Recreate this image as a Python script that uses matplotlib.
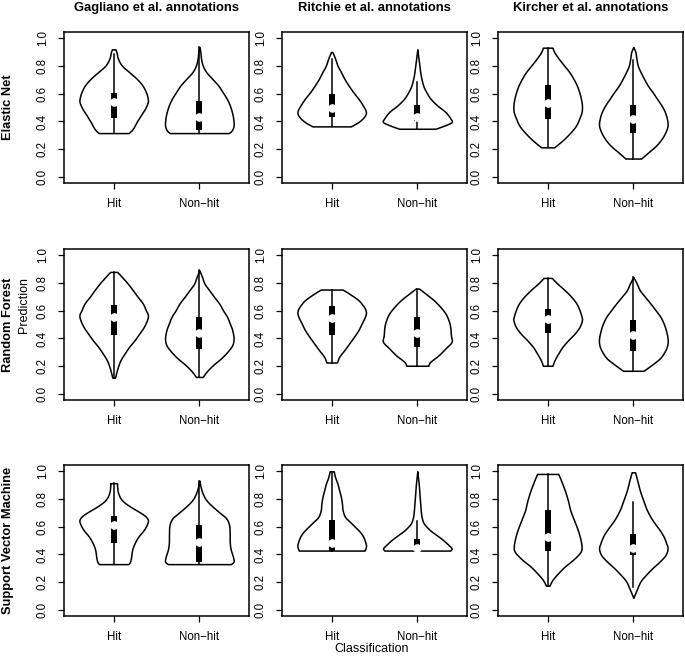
import numpy as np
import matplotlib
matplotlib.use("Agg")
import matplotlib.pyplot as plt
from matplotlib.patches import Rectangle

plt.rcParams['font.family'] = ['Liberation Sans', 'DejaVu Sans']

ANNOTATIONS = ["Gagliano et al. annotations", "Ritchie et al. annotations", "Kircher et al. annotations"]
MODELS = ["Elastic Net", "Random Forest", "Support Vector Machine"]
CLASSES = ["Hit", "Non\u2212hit"]
Y_TICKS = [0.0, 0.2, 0.4, 0.6, 0.8, 1.0]
Y_TICK_LABELS = ["0.0", "0.2", "0.4", "0.6", "0.8", "1.0"]

# Violin outlines: prediction level (y) and relative half-width (w)
# Box statistics: [lower whisker, q1, median, q3, upper whisker]

# Elastic Net - Gagliano
EN_GAG_HIT_Y = [0.317, 0.348, 0.396, 0.444, 0.49, 0.527, 0.55, 0.58, 0.61, 0.658, 0.706, 0.754, 0.80, 0.85, 0.897, 0.916]
EN_GAG_HIT_W = [0.44, 0.56, 0.67, 0.79, 0.91, 0.98, 1.0, 0.98, 0.94, 0.84, 0.67, 0.45, 0.24, 0.125, 0.08, 0.05]
EN_GAG_HIT_S = [0.317, 0.427, 0.539, 0.606, 0.88]
EN_GAG_NON_Y = [0.317, 0.337, 0.372, 0.42, 0.468, 0.515, 0.563, 0.61, 0.658, 0.706, 0.754, 0.80, 0.85, 0.897, 0.933]
EN_GAG_NON_W = [0.86, 0.95, 1.0, 0.99, 0.95, 0.89, 0.8, 0.68, 0.55, 0.375, 0.2, 0.1, 0.05, 0.03, 0.0]
EN_GAG_NON_S = [0.317, 0.337, 0.432, 0.544, 0.933]

# Elastic Net - Ritchie
EN_RIT_HIT_Y = [0.365, 0.396, 0.432, 0.468, 0.515, 0.563, 0.611, 0.659, 0.706, 0.754, 0.80, 0.85, 0.897]
EN_RIT_HIT_W = [0.56, 0.78, 0.94, 1.0, 0.91, 0.78, 0.625, 0.49, 0.37, 0.27, 0.17, 0.1, 0.02]
EN_RIT_HIT_S = [0.365, 0.432, 0.50, 0.60, 0.85]
EN_RIT_NON_Y = [0.348, 0.372, 0.396, 0.42, 0.468, 0.515, 0.563, 0.611, 0.659, 0.73, 0.80, 0.916]
EN_RIT_NON_W = [0.53, 0.8, 1.0, 0.97, 0.82, 0.58, 0.385, 0.26, 0.17, 0.1, 0.06, 0.0]
EN_RIT_NON_S = [0.348, 0.40, 0.43, 0.515, 0.68]

# Elastic Net - Kircher
EN_KIR_HIT_Y = [0.215, 0.241, 0.277, 0.325, 0.372, 0.42, 0.468, 0.515, 0.563, 0.61, 0.658, 0.706, 0.754, 0.80, 0.85, 0.897, 0.928]
EN_KIR_HIT_W = [0.19, 0.32, 0.49, 0.68, 0.83, 0.92, 0.99, 1.0, 0.97, 0.92, 0.85, 0.75, 0.63, 0.48, 0.32, 0.19, 0.14]
EN_KIR_HIT_S = [0.215, 0.415, 0.535, 0.663, 0.928]
EN_KIR_NON_Y = [0.135, 0.182, 0.229, 0.277, 0.325, 0.372, 0.42, 0.468, 0.515, 0.563, 0.61, 0.658, 0.706, 0.754, 0.80, 0.85, 0.897, 0.933]
EN_KIR_NON_W = [0.23, 0.45, 0.67, 0.83, 0.94, 1.0, 0.98, 0.92, 0.82, 0.69, 0.56, 0.42, 0.31, 0.21, 0.13, 0.09, 0.06, 0.0]
EN_KIR_NON_S = [0.135, 0.315, 0.415, 0.52, 0.838]

# Random Forest - Gagliano
RF_GAG_HIT_Y = [0.12, 0.15, 0.198, 0.245, 0.293, 0.34, 0.388, 0.436, 0.483, 0.531, 0.567, 0.602, 0.65, 0.698, 0.745, 0.793, 0.84, 0.876]
RF_GAG_HIT_W = [0.04, 0.07, 0.125, 0.2, 0.32, 0.45, 0.61, 0.75, 0.88, 0.97, 1.0, 0.94, 0.85, 0.70, 0.56, 0.41, 0.24, 0.105]
RF_GAG_HIT_S = [0.12, 0.424, 0.555, 0.638, 0.876]
RF_GAG_NON_Y = [0.125, 0.162, 0.21, 0.257, 0.305, 0.352, 0.40, 0.46, 0.507, 0.555, 0.602, 0.65, 0.698, 0.745, 0.793, 0.84, 0.888]
RF_GAG_NON_W = [0.1, 0.21, 0.40, 0.63, 0.82, 0.96, 1.0, 0.96, 0.89, 0.81, 0.69, 0.58, 0.43, 0.29, 0.15, 0.08, 0.0]
RF_GAG_NON_S = [0.125, 0.324, 0.436, 0.555, 0.888]

# Random Forest - Ritchie
RF_RIT_HIT_Y = [0.228, 0.269, 0.317, 0.364, 0.412, 0.46, 0.507, 0.555, 0.59, 0.626, 0.674, 0.721, 0.75]
RF_RIT_HIT_W = [0.155, 0.22, 0.37, 0.51, 0.65, 0.78, 0.875, 0.97, 1.0, 0.94, 0.78, 0.51, 0.32]
RF_RIT_HIT_S = [0.228, 0.424, 0.543, 0.631, 0.75]
RF_RIT_NON_Y = [0.205, 0.233, 0.281, 0.329, 0.376, 0.424, 0.483, 0.531, 0.579, 0.626, 0.674, 0.721, 0.757]
RF_RIT_NON_W = [0.32, 0.38, 0.625, 0.82, 1.0, 0.98, 0.96, 0.91, 0.82, 0.67, 0.48, 0.24, 0.05]
RF_RIT_NON_S = [0.205, 0.34, 0.436, 0.555, 0.757]

# Random Forest - Kircher
RF_KIR_HIT_Y = [0.205, 0.245, 0.293, 0.34, 0.388, 0.436, 0.483, 0.531, 0.555, 0.602, 0.65, 0.698, 0.745, 0.793, 0.833]
RF_KIR_HIT_W = [0.14, 0.2, 0.31, 0.43, 0.6, 0.79, 0.93, 1.0, 0.99, 0.93, 0.84, 0.69, 0.5, 0.28, 0.12]
RF_KIR_HIT_S = [0.205, 0.44, 0.538, 0.614, 0.833]
RF_KIR_NON_Y = [0.169, 0.21, 0.257, 0.305, 0.352, 0.40, 0.46, 0.507, 0.555, 0.602, 0.65, 0.698, 0.745, 0.793, 0.84]
RF_KIR_NON_W = [0.3, 0.53, 0.77, 0.91, 0.99, 1.0, 0.95, 0.885, 0.79, 0.65, 0.5, 0.34, 0.19, 0.1, 0.0]
RF_KIR_NON_S = [0.169, 0.31, 0.424, 0.531, 0.84]

# Support Vector Machine - Gagliano
SVM_GAG_HIT_Y = [0.331, 0.35, 0.385, 0.433, 0.48, 0.527, 0.574, 0.61, 0.645, 0.675, 0.705, 0.74, 0.775, 0.81, 0.85, 0.89, 0.91]
SVM_GAG_HIT_W = [0.43, 0.48, 0.51, 0.54, 0.61, 0.72, 0.875, 0.96, 1.0, 0.92, 0.74, 0.5, 0.3, 0.18, 0.12, 0.1, 0.1]
SVM_GAG_HIT_S = [0.331, 0.48, 0.61, 0.674, 0.91]
SVM_GAG_NON_Y = [0.331, 0.35, 0.385, 0.433, 0.48, 0.551, 0.61, 0.657, 0.693, 0.74, 0.787, 0.835, 0.882, 0.929]
SVM_GAG_NON_W = [0.92, 1.0, 0.98, 0.92, 0.89, 0.885, 0.87, 0.79, 0.625, 0.4, 0.21, 0.1, 0.04, 0.0]
SVM_GAG_NON_S = [0.331, 0.343, 0.49, 0.61, 0.929]

# Support Vector Machine - Ritchie
SVM_RIT_HIT_Y = [0.428, 0.456, 0.48, 0.527, 0.563, 0.598, 0.634, 0.669, 0.716, 0.764, 0.81, 0.858, 0.905, 0.953, 0.995]
SVM_RIT_HIT_W = [0.96, 1.0, 0.99, 0.92, 0.82, 0.68, 0.53, 0.39, 0.32, 0.3, 0.27, 0.22, 0.17, 0.1, 0.06]
SVM_RIT_HIT_S = [0.428, 0.428, 0.48, 0.645, 0.98]
SVM_RIT_NON_Y = [0.428, 0.444, 0.468, 0.504, 0.539, 0.574, 0.622, 0.669, 0.716, 0.81, 0.905, 0.995]
SVM_RIT_NON_W = [0.96, 1.0, 0.91, 0.75, 0.56, 0.37, 0.19, 0.125, 0.1, 0.07, 0.04, 0.0]
SVM_RIT_NON_S = [0.428, 0.43, 0.444, 0.51, 0.64]

# Support Vector Machine - Kircher
SVM_KIR_HIT_Y = [0.177, 0.22, 0.267, 0.314, 0.362, 0.409, 0.444, 0.504, 0.574, 0.645, 0.716, 0.787, 0.858, 0.929, 0.976]
SVM_KIR_HIT_W = [0.05, 0.145, 0.31, 0.5, 0.74, 0.93, 0.99, 0.96, 0.88, 0.77, 0.66, 0.59, 0.5, 0.39, 0.31]
SVM_KIR_HIT_S = [0.177, 0.428, 0.522, 0.716, 0.976]
SVM_KIR_NON_Y = [0.09, 0.149, 0.208, 0.255, 0.303, 0.35, 0.397, 0.444, 0.48, 0.527, 0.574, 0.645, 0.716, 0.787, 0.858, 0.929, 0.988]
SVM_KIR_NON_W = [0.0, 0.1, 0.21, 0.37, 0.56, 0.77, 0.94, 1.0, 0.96, 0.885, 0.77, 0.56, 0.4, 0.29, 0.19, 0.115, 0.05]
SVM_KIR_NON_S = [0.17, 0.397, 0.449, 0.546, 0.775]

PANELS = [
    [((EN_GAG_HIT_Y, EN_GAG_HIT_W, EN_GAG_HIT_S), (EN_GAG_NON_Y, EN_GAG_NON_W, EN_GAG_NON_S)),
     ((EN_RIT_HIT_Y, EN_RIT_HIT_W, EN_RIT_HIT_S), (EN_RIT_NON_Y, EN_RIT_NON_W, EN_RIT_NON_S)),
     ((EN_KIR_HIT_Y, EN_KIR_HIT_W, EN_KIR_HIT_S), (EN_KIR_NON_Y, EN_KIR_NON_W, EN_KIR_NON_S))],
    [((RF_GAG_HIT_Y, RF_GAG_HIT_W, RF_GAG_HIT_S), (RF_GAG_NON_Y, RF_GAG_NON_W, RF_GAG_NON_S)),
     ((RF_RIT_HIT_Y, RF_RIT_HIT_W, RF_RIT_HIT_S), (RF_RIT_NON_Y, RF_RIT_NON_W, RF_RIT_NON_S)),
     ((RF_KIR_HIT_Y, RF_KIR_HIT_W, RF_KIR_HIT_S), (RF_KIR_NON_Y, RF_KIR_NON_W, RF_KIR_NON_S))],
    [((SVM_GAG_HIT_Y, SVM_GAG_HIT_W, SVM_GAG_HIT_S), (SVM_GAG_NON_Y, SVM_GAG_NON_W, SVM_GAG_NON_S)),
     ((SVM_RIT_HIT_Y, SVM_RIT_HIT_W, SVM_RIT_HIT_S), (SVM_RIT_NON_Y, SVM_RIT_NON_W, SVM_RIT_NON_S)),
     ((SVM_KIR_HIT_Y, SVM_KIR_HIT_W, SVM_KIR_HIT_S), (SVM_KIR_NON_Y, SVM_KIR_NON_W, SVM_KIR_NON_S))],
]

W, H = 685, 656
fig = plt.figure(figsize=(W / 100, H / 100), dpi=100)

col_left = [64, 282, 498]
row_top = [32, 249, 465]
pw, ph = 185, 151
HALF_MAX = 0.4
BOX_HALF = 0.033


def smooth_outline(y, w, n=12):
    # Catmull-Rom style smoothing of the drawn outline only
    y = np.asarray(y, float)
    w = np.asarray(w, float)
    ys, ws = [], []
    for i in range(len(y) - 1):
        p0 = max(i - 1, 0); p3 = min(i + 2, len(y) - 1)
        for t in np.linspace(0, 1, n, endpoint=False):
            t2, t3 = t * t, t * t * t
            def cr(a):
                return 0.5 * ((2 * a[i]) + (-a[p0] + a[i + 1]) * t +
                              (2 * a[p0] - 5 * a[i] + 4 * a[i + 1] - a[p3]) * t2 +
                              (-a[p0] + 3 * a[i] - 3 * a[i + 1] + a[p3]) * t3)
            ys.append(cr(y)); ws.append(max(cr(w), 0))
    ys.append(y[-1]); ws.append(w[-1])
    return np.array(ys), np.array(ws)


for r in range(3):
    for c in range(3):
        l = col_left[c] / W
        b = 1 - (row_top[r] + ph) / H
        ax = fig.add_axes([l, b, pw / W, ph / H])
        ax.set_xlim(0.42, 2.58)
        ax.set_ylim(-0.04, 1.04)
        for k, (vy, vw, st) in enumerate(PANELS[r][c]):
            x0 = k + 1
            ys, ws = smooth_outline(vy, vw)
            ax.fill_betweenx(ys, x0 - ws * HALF_MAX, x0 + ws * HALF_MAX,
                             facecolor='white', edgecolor='black', linewidth=1.1, zorder=2)
            lo, q1, med, q3, hi = st
            ax.plot([x0, x0], [lo, hi], color='black', linewidth=1.1, zorder=3)
            ax.add_patch(Rectangle((x0 - BOX_HALF, q1), 2 * BOX_HALF, q3 - q1,
                                   facecolor='black', edgecolor='none', zorder=4))
            ax.plot([x0], [med], 'o', color='white', markersize=5.2, zorder=5)
        ax.set_xticks([1, 2])
        ax.set_xticklabels(CLASSES, fontsize=8.3)
        ax.set_yticks(Y_TICKS)
        ax.set_yticklabels(Y_TICK_LABELS, fontsize=8.3, rotation=90, va='center')
        ax.tick_params(axis='both', length=4.3, width=0.9, color='black')
        ax.tick_params(axis='x', pad=6.5)
        ax.tick_params(axis='y', pad=6.5)
        for sp in ax.spines.values():
            sp.set_linewidth(1.1)
        if r == 0:
            fig.text((col_left[c] + pw / 2) / W, 1 - 8 / H, ANNOTATIONS[c],
                     ha='center', va='center', fontsize=9.4, fontweight='bold')
        if c == 0:
            fig.text(8 / W, 1 - (row_top[r] + ph / 2) / H, MODELS[r],
                     ha='center', va='center', rotation=90, fontsize=9.3, fontweight='bold')

fig.text(24 / W, 1 - 305 / H, "Prediction", ha='center', va='center', rotation=90, fontsize=9)
fig.text(372 / W, 1 - 649 / H, "Classification", ha='center', va='center', fontsize=9)

fig.savefig("out.png", dpi=100)
